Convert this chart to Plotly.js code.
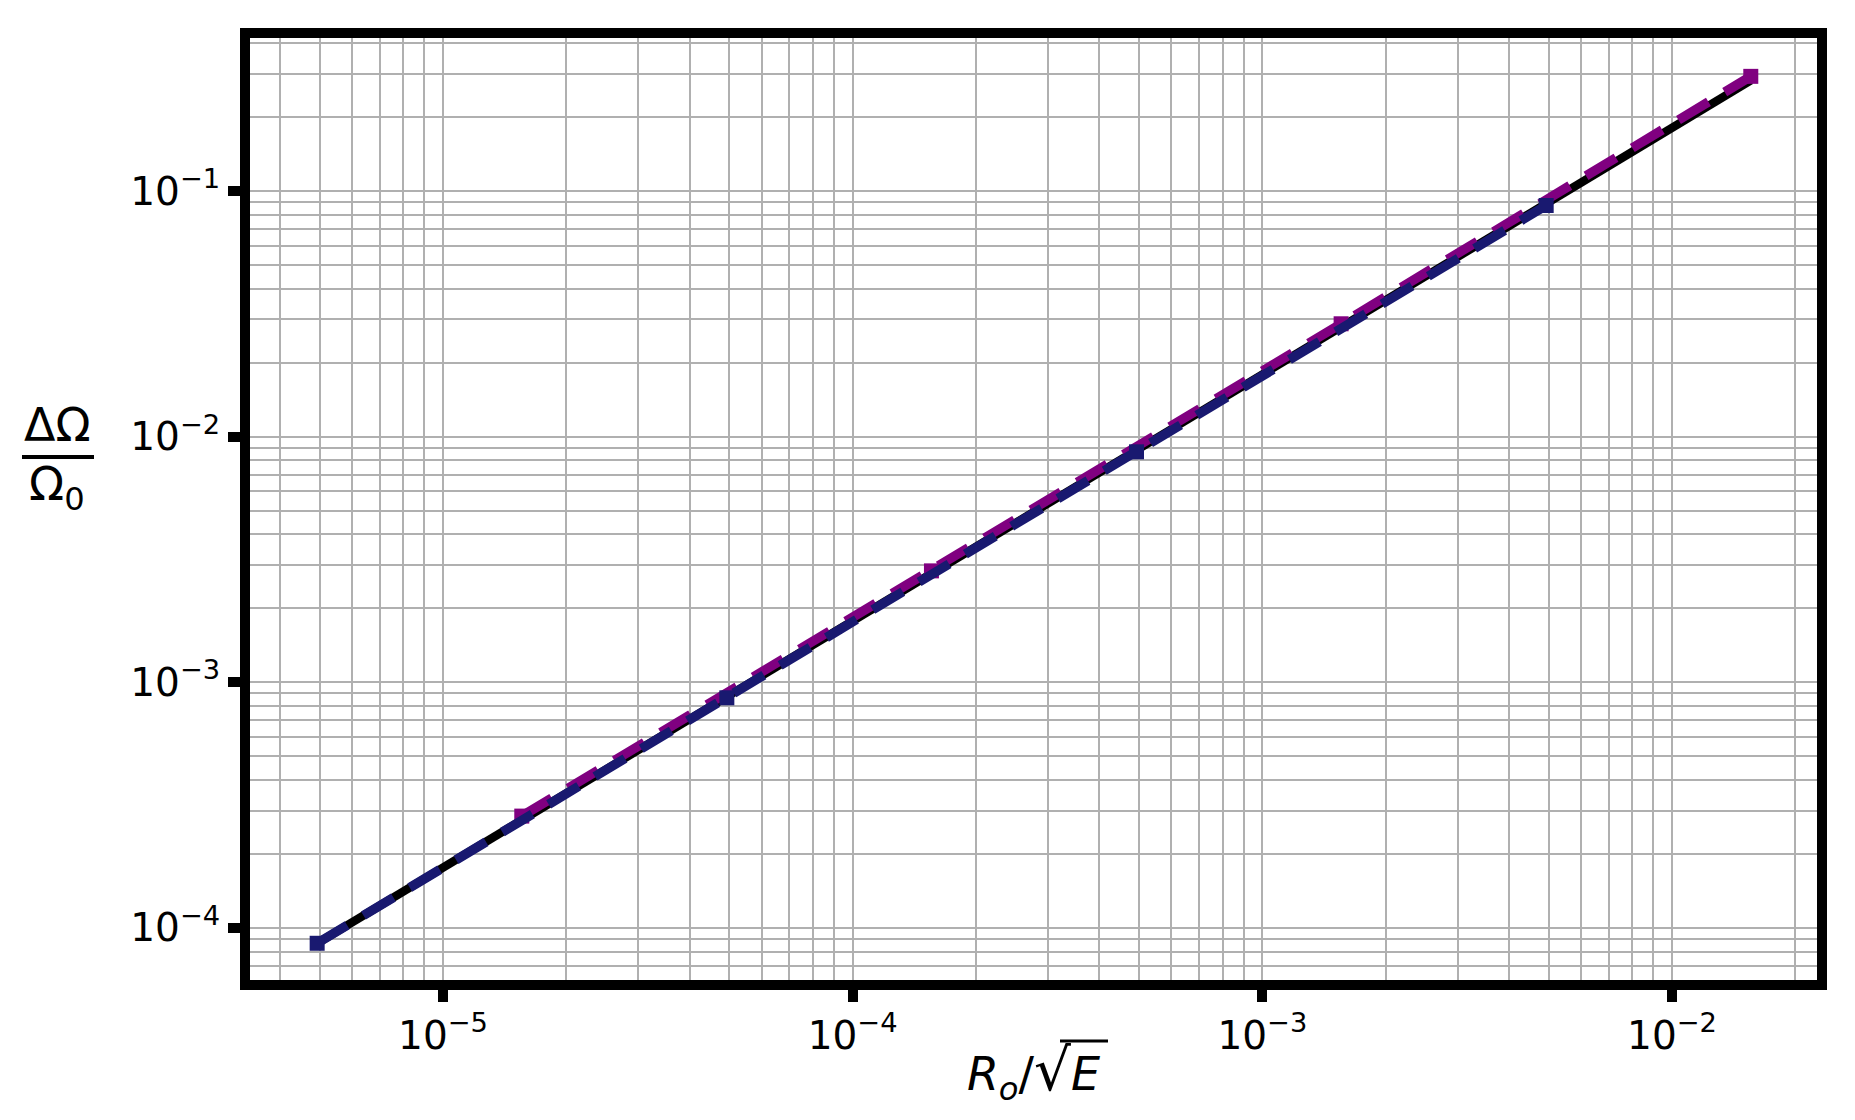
<!DOCTYPE html>
<html>
<head>
<meta charset="utf-8">
<script src="https://cdn.plot.ly/plotly-3.0.1.min.js"></script>
<style>html,body{margin:0;padding:0;background:#fff;}#chart{width:1855px;height:1120px;}</style>
</head>
<body>
<div id="chart"></div>
<script>
// ---- data ----
const navyX = [4.93e-6, 4.93e-5, 4.93e-4, 4.93e-3];
const navyY = [8.65e-5, 8.64e-4, 8.67e-3, 0.0873];
const purpleX = [1.557e-5, 1.557e-4, 1.557e-3, 1.557e-2];
const purpleY = [2.85e-4, 2.84e-3, 2.88e-2, 0.293];
const theoryX = [4.93e-6, 1.557e-2];
const theoryY = [8.65e-5, 0.282];
const xTickVals = [1e-5, 1e-4, 1e-3, 1e-2];
const xTickText = ['10<sup>\u22125</sup>', '10<sup>\u22124</sup>', '10<sup>\u22123</sup>', '10<sup>\u22122</sup>'];
const yTickVals = [1e-4, 1e-3, 1e-2, 1e-1];
const yTickText = ['10<sup>\u22124</sup>', '10<sup>\u22123</sup>', '10<sup>\u22122</sup>', '10<sup>\u22121</sup>'];
const xTitle = '<i>R</i><sub><i>o</i></sub>/<span style="font-size:58px">\u221A</span><i>E</i>';
const yTitleTop = '\u0394\u03A9';
const yTitleBottom = '\u03A9<sub>0</sub>';

// ---- layout geometry ----
const W = 1855, H = 1120;
const M = {l: 250, r: 38, t: 38, b: 140};
const PW = W - M.l - M.r, PH = H - M.t - M.b;
const px = v => (v - M.l) / PW;       // pixel x -> paper x
const py = v => (H - M.b - v) / PH;   // pixel y -> paper y

const FONT = 'DejaVu Sans, Liberation Sans, sans-serif';
const GRID = '#b0b0b0';
const DASH = '35px,19px';

const traces = [
  {x: theoryX, y: theoryY, type: 'scatter', mode: 'lines',
   line: {color: '#000000', width: 8.5}, showlegend: false, hoverinfo: 'skip'},
  {x: purpleX, y: purpleY, type: 'scatter', mode: 'lines+markers',
   line: {color: '#800080', width: 9.5, dash: DASH},
   marker: {symbol: 'square', size: 15, color: '#800080'}, showlegend: false},
  {x: navyX, y: navyY, type: 'scatter', mode: 'lines+markers',
   line: {color: '#191970', width: 9.5, dash: DASH},
   marker: {symbol: 'square', size: 15, color: '#191970'}, showlegend: false}
];

const axisCommon = {
  type: 'log', showgrid: true, gridcolor: GRID, gridwidth: 1.5, zeroline: false,
  ticks: 'outside', ticklen: 12, tickwidth: 10, tickcolor: '#000',
  showline: true, linewidth: 10, linecolor: '#000', mirror: true,
  tickmode: 'array', tickfont: {family: FONT, size: 39, color: '#000'},
  minor: {dtick: 'D1', showgrid: true, gridcolor: GRID, gridwidth: 1.5, ticks: ''},
  automargin: false
};

const layout = {
  width: W, height: H, margin: M,
  paper_bgcolor: '#fff', plot_bgcolor: '#fff', showlegend: false,
  xaxis: Object.assign({}, axisCommon, {
    range: [-5.4711, -1.6461], tickvals: xTickVals, ticktext: xTickText,
    title: {text: xTitle, font: {family: FONT, size: 46, color: '#000'}, standoff: 5}
  }),
  yaxis: Object.assign({}, axisCommon, {
    range: [-4.2125, -0.3770], tickvals: yTickVals, ticktext: yTickText
  }),
  annotations: [
    {text: yTitleTop, xref: 'paper', yref: 'paper', x: px(57), y: py(425),
     xanchor: 'center', yanchor: 'middle', showarrow: false,
     font: {family: FONT, size: 46, color: '#000'}},
    {text: yTitleBottom, xref: 'paper', yref: 'paper', x: px(57), y: py(487),
     xanchor: 'center', yanchor: 'middle', showarrow: false,
     font: {family: FONT, size: 46, color: '#000'}}
  ],
  shapes: [
    {type: 'line', xref: 'paper', yref: 'paper', x0: px(22), x1: px(94), y0: py(457), y1: py(457),
     line: {color: '#000', width: 4}},
    {type: 'line', xref: 'paper', yref: 'paper', x0: px(1060), x1: px(1108), y0: py(1041), y1: py(1041),
     line: {color: '#000', width: 3}}
  ]
};

Plotly.newPlot('chart', traces, layout, {displayModeBar: false, responsive: false});
</script>
</body>
</html>
